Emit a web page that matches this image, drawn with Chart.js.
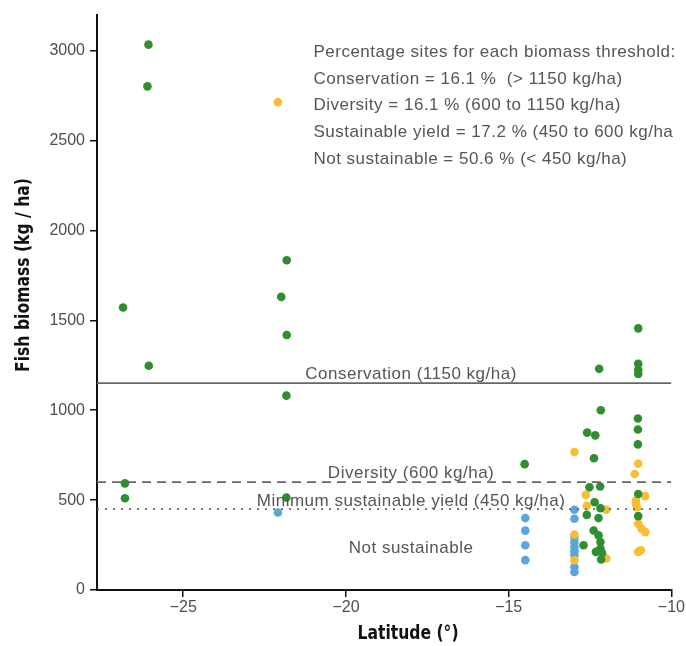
<!DOCTYPE html>
<html>
<head>
<meta charset="utf-8">
<script src="https://cdn.jsdelivr.net/npm/chart.js@4/dist/chart.umd.min.js"></script>
<style>
    html, body { margin: 0; padding: 0; background: #fff; }
    #wrap { width: 686px; height: 646px; }
</style>
</head>
<body>
<div id="wrap"><canvas id="chart"></canvas></div>
<script>
// Sites by colour group: latitude (deg) and fish biomass (kg/ha)
var greenLat = [-26.07, -26.10, -21.82, -21.99, -26.85, -26.06, -21.82, -21.83, -26.79, -26.79,
    -21.83, -14.51, -11.02, -12.22, -11.02, -11.02, -11.02, -12.17, -11.03, -11.03,
    -11.03, -12.59, -12.34, -12.38, -12.52, -12.19, -11.02, -12.36, -12.18, -12.60,
    -12.24, -11.02, -12.39, -12.24, -12.18, -12.70, -12.18, -12.32, -12.13, -12.16];
var greenBio = [3033, 2801, 1834, 1630, 1571, 1247, 1418, 1081, 593, 510,
    514, 700, 1455, 1230, 1258, 1225, 1201, 1000, 954, 893,
    810, 875, 860, 733, 571, 576, 534, 488, 455, 418,
    400, 411, 331, 304, 267, 249, 230, 212, 206, 170];

var yellowLat = [-22.09, -12.98, -11.02, -11.13, -12.63, -10.81, -12.60, -11.09, -11.09, -11.06,
    -12.00, -11.02, -10.92, -10.80, -12.98, -12.98, -11.02, -10.94, -12.00];
var yellowBio = [2713, 767, 702, 645, 529, 522, 468, 497, 480, 460,
    446, 368, 341, 322, 308, 166, 212, 221, 175];

var blueLat = [-22.09, -14.49, -14.49, -14.49, -14.49, -12.98, -12.98, -12.98, -12.98, -12.98,
    -12.98, -12.98, -12.98, -12.98];
var blueBio = [431, 400, 330, 249, 166, 446, 396, 292, 265, 240,
    215, 195, 128, 100];

// Biomass thresholds and their labels
var thresholds = [1150, 600, 450];
var thresholdNames = ['Conservation (1150 kg/ha)', 'Diversity (600 kg/ha)', 'Minimum sustainable yield (450 kg/ha)', 'Not sustainable'];
var thresholdLabelY = [1200, 648, 493, 232];

var summaryLines = [
    'Percentage sites for each biomass threshold:',
    'Conservation = 16.1 %  (> 1150 kg/ha)',
    'Diversity = 16.1 % (600 to 1150 kg/ha)',
    'Sustainable yield = 17.2 % (450 to 600 kg/ha',
    'Not sustainable = 50.6 % (< 450 kg/ha)'
];
var summaryY = [2990, 2840, 2695, 2545, 2395];

var xTicks = [-25, -20, -15, -10];
var yTicks = [0, 500, 1000, 1500, 2000, 2500, 3000];
var xMin = -27.65, xMax = -10, yMin = 0, yMax = 3200;

function toPoints(xs, ys) {
    return xs.map(function(x, i) { return { x: x, y: ys[i] }; });
}

function pointSet(xs, ys, color, order) {
    return {
        type: 'scatter',
        data: toPoints(xs, ys),
        backgroundColor: color,
        borderWidth: 0,
        pointRadius: 4.3,
        pointHoverRadius: 4.3,
        order: order
    };
}

function hline(value, dash) {
    return {
        type: 'line',
        data: [{ x: xMin, y: value }, { x: xMax, y: value }],
        borderColor: '#666666',
        borderWidth: 1.8,
        borderDash: dash,
        pointRadius: 0,
        fill: false,
        order: 0
    };
}

var lineDashes = [[], [9, 6], [2, 6]];

var datasets = [
    pointSet(blueLat, blueBio, '#5aa6dc', 3),
    pointSet(yellowLat, yellowBio, '#f6be30', 2),
    pointSet(greenLat, greenBio, '#2f8f2f', 1)
];
thresholds.forEach(function(t, i) {
    datasets.push(hline(t, lineDashes[i]));
});

var textFont = '17px "Liberation Sans", Arial, sans-serif';
var titleFont = 'bold 20px "DejaVu Sans", sans-serif';

// Bold title squeezed sideways, close to the condensed face of the original
function narrowText(ctx, text, x, y, angle) {
    ctx.save();
    ctx.translate(x, y);
    ctx.rotate(angle);
    ctx.scale(0.78, 1);
    ctx.fillText(text, 0, 0);
    ctx.restore();
}

// Text labels placed through the scales
var annotations = {
    id: 'annotations',
    afterDraw: function(chart) {
        var ctx = chart.ctx;
        var sx = chart.scales.x, sy = chart.scales.y;
        ctx.save();
        ctx.font = textFont;
        ctx.letterSpacing = '0.5px';
        ctx.fillStyle = '#555555';
        ctx.textBaseline = 'middle';

        ctx.textAlign = 'center';
        thresholdNames.forEach(function(name, i) {
            ctx.fillText(name, sx.getPixelForValue(-18), sy.getPixelForValue(thresholdLabelY[i]));
        });

        ctx.textAlign = 'left';
        summaryLines.forEach(function(line, i) {
            ctx.fillText(line, sx.getPixelForValue(-21), sy.getPixelForValue(summaryY[i]));
        });

        // axis titles
        ctx.letterSpacing = '0px';
        ctx.font = titleFont;
        ctx.fillStyle = '#111111';
        ctx.textAlign = 'center';
        narrowText(ctx, 'Latitude (\u00b0)', 408, 634, 0);
        narrowText(ctx, 'Fish biomass (kg / ha)', 24, 275, -Math.PI / 2);
        ctx.restore();
    }
};

function minus(v) {
    return v < 0 ? '\u2212' + Math.abs(v) : String(v);
}

var axisGrid = {
    display: true,
    drawOnChartArea: false,
    drawTicks: true,
    tickLength: 7,
    color: '#111111',
    lineWidth: 1.5
};
var axisBorder = { display: true, color: '#111111', width: 2 };
var tickFont = { family: '"Liberation Sans", Arial, sans-serif', size: 16 };

new Chart(document.getElementById('chart'), {
    data: { datasets: datasets },
    plugins: [annotations],
    options: {
        responsive: true,
        maintainAspectRatio: false,
        animation: false,
        layout: { padding: { top: 12, right: 14, left: 0, bottom: 0 } },
        plugins: {
            legend: { display: false },
            tooltip: { enabled: false }
        },
        scales: {
            x: {
                type: 'linear',
                min: xMin,
                max: xMax,
                grid: axisGrid,
                border: axisBorder,
                ticks: {
                    font: tickFont,
                    color: '#4d4d4d',
                    padding: 1,
                    callback: function(v) { return minus(v); }
                },
                afterBuildTicks: function(scale) {
                    scale.ticks = xTicks.map(function(v) { return { value: v }; });
                },
                afterFit: function(scale) { scale.height = 56; }
            },
            y: {
                type: 'linear',
                min: yMin,
                max: yMax,
                grid: axisGrid,
                border: axisBorder,
                ticks: {
                    font: tickFont,
                    color: '#4d4d4d',
                    padding: 5,
                    callback: function(v) { return minus(v); }
                },
                afterBuildTicks: function(scale) {
                    scale.ticks = yTicks.map(function(v) { return { value: v }; });
                },
                afterFit: function(scale) { scale.width = 97; }
            }
        }
    }
});
</script>
</body>
</html>
